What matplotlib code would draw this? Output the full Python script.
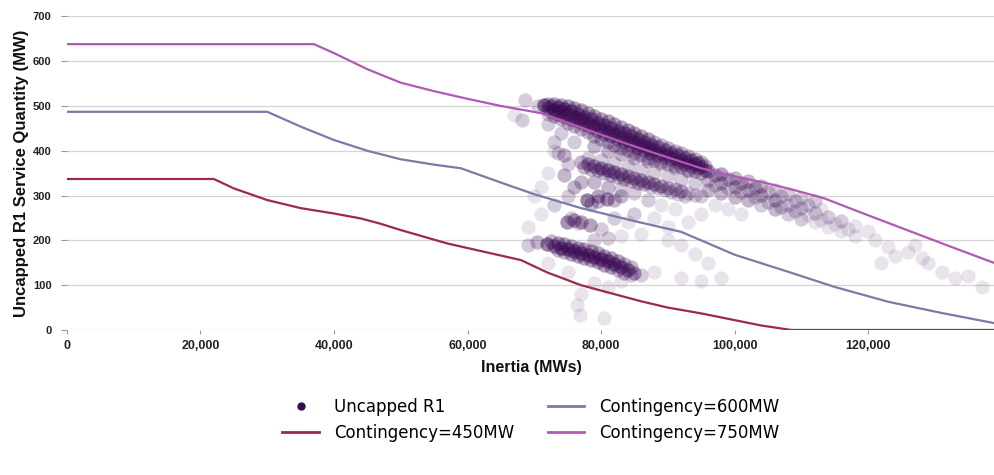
import numpy as np
import matplotlib
matplotlib.use("Agg")
import matplotlib.pyplot as plt
from matplotlib.lines import Line2D
from matplotlib.font_manager import FontProperties

# ---------------- data ----------------
# Contingency curves: inertia (thousand MWs) vs uncapped R1 quantity (MW)
c450_x = [0, 22, 25, 30, 35, 40, 44, 47, 50, 57, 68, 72, 77, 82, 86, 90, 95, 100, 104, 108.5, 139]
c450_y = [337, 337, 316, 290, 272, 260, 249, 237, 223, 193, 156, 128, 100, 80, 64, 50, 37, 22, 10, 0, 0]

c600_x = [0, 30, 35, 40, 45, 50, 55, 59, 65, 70, 77, 85, 92, 95, 100, 108, 115, 123, 131, 139]
c600_y = [487, 487, 454, 424, 400, 381, 369, 361, 329, 303, 272, 243, 219, 200, 168, 130, 96, 63, 38, 15]

c750_x = [0, 37, 40, 45, 50, 55, 60, 65, 71, 77, 83, 89, 95, 100, 105, 109, 113.4, 120, 126, 132, 139]
c750_y = [638, 638, 618, 582, 552, 533, 516, 500, 484, 452, 420, 390, 361, 343, 327, 312, 294, 256, 222, 188, 149]

# Uncapped R1 observations: inertia (thousand MWs), quantity (MW), multiplicity
obs_x = [
    # top dense band (five staggered rows)
    72, 73, 74, 75, 76, 77, 78, 79, 80, 81, 82, 83, 84, 85, 86, 87, 88, 89, 90, 91, 92, 93, 94, 95,
    72.5, 73.5, 74.5, 75.5, 76.5, 77.5, 78.5, 79.5, 80.5, 81.5, 82.5, 83.5, 84.5, 85.5, 86.5, 87.5,
    88.5, 89.5, 90.5, 91.5, 92.5, 93.5, 94.5, 95.5,
    72, 73, 74, 75, 76, 77, 78, 79, 80, 81, 82, 83, 84, 85, 86, 87, 88, 89, 90, 91, 92, 93, 94, 95,
    72.5, 73.5, 74.5, 75.5, 76.5, 77.5, 78.5, 79.5, 80.5, 81.5, 82.5, 83.5, 84.5, 85.5, 86.5, 87.5,
    88.5, 89.5, 90.5, 91.5, 92.5, 93.5, 94.5, 95.5,
    72, 73, 74, 75, 76, 77, 78, 79, 80, 81, 82, 83, 84, 85, 86, 87, 88, 89, 90, 91, 92, 93, 94, 95,
    71.5, 70.5, 68.6, 68.1, 67,
    # band continuation beyond 95k
    96, 98, 100, 102, 104, 106, 108, 110, 112,
    97, 99, 101, 103, 105, 107, 109, 111, 113,
    96, 98, 100, 102, 104, 106, 108, 110, 112, 114, 116, 118, 120,
    97, 99, 101, 103, 105, 107, 109, 111, 113, 115, 117,
    96, 98, 100, 102, 104, 106, 108, 110, 112, 114, 116, 118,
    121, 123, 124, 126, 128, 129, 131, 133, 135, 137, 127, 122,
    # second band
    77, 78, 79, 80, 81, 82, 83, 84, 85, 86, 87, 88, 89, 90, 91, 92, 93, 94, 95,
    77.5, 78.5, 79.5, 80.5, 81.5, 82.5, 83.5, 84.5, 85.5, 86.5, 87.5, 88.5, 89.5, 90.5, 91.5, 92.5,
    78, 80, 82, 84, 86, 88, 90, 92, 94,
    79, 81, 83, 85, 87, 89, 91, 93,
    # middle column and scattered points
    74.4, 74.4, 77.9, 80.9, 79.5, 74.9, 78.4, 76, 77, 80, 82, 83, 76, 75, 73, 74, 76, 72,
    73, 72, 71, 70, 71, 73, 75, 77, 79, 81, 83, 85, 87, 89, 91, 85, 88, 82, 84, 90, 93,
    95, 97, 99, 101, 86, 90, 92, 94, 96, 88, 92, 95, 98, 83, 79, 81, 83,
    78.5, 79.5, 76.5, 75.5, 73.5,
    # lower dense band
    70.4, 71.9, 73, 74, 75, 76, 77, 78, 79, 80, 81, 82, 83, 84, 85, 86,
    72.5, 73.5, 74.5, 75.5, 76.5, 77.5, 78.5, 79.5, 80.5, 81.5, 82.5, 83.5, 84.5,
    73.5, 74.5, 75.5, 76.5, 77.5, 78.5, 79.5, 80.5, 81.5, 82.5, 83.5, 84.5,
    # sparse low points
    76.4, 76.9, 80.4, 77, 75, 72, 69, 69, 79, 81,
]
obs_y = [
    505, 505, 503, 500, 495, 490, 484, 478, 472, 466, 460, 453, 446, 440, 433, 427, 420, 413, 407, 400, 394, 388, 382, 376,
    500, 498, 494, 488, 482, 476, 470, 463, 457, 451, 445, 439, 432, 426, 420, 414,
    408, 402, 396, 390, 384, 379, 373, 367,
    495, 492, 488, 482, 476, 470, 463, 456, 449, 443, 437, 431, 425, 419, 413, 407, 401, 396, 391, 385, 380, 375, 370, 364,
    488, 483, 478, 472, 466, 459, 452, 445, 438, 432, 425, 419, 413, 407, 401, 396,
    391, 386, 381, 376, 371, 366, 361, 356,
    482, 477, 470, 463, 456, 449, 441, 433, 426, 419, 413, 407, 401, 396, 390, 385, 380, 375, 371, 367, 363, 358, 354, 350,
    502, 500, 513, 469, 480,
    355, 348, 340, 332, 322, 313, 303, 295, 287,
    345, 337, 328, 318, 308, 298, 289, 280, 270,
    335, 328, 320, 312, 302, 290, 280, 272, 262, 252, 243, 232, 222,
    323, 316, 308, 296, 285, 275, 266, 256, 246, 236, 226,
    312, 305, 297, 290, 280, 270, 258, 248, 240, 230, 220, 210,
    200, 185, 165, 175, 160, 150, 130, 115, 120, 97, 190, 150,
    375, 370, 366, 362, 357, 352, 348, 344, 340, 335, 330, 326, 322, 318, 314, 310, 306, 302, 298,
    364, 360, 356, 351, 347, 342, 338, 333, 329, 325, 320, 316, 312, 308, 304, 300,
    385, 380, 372, 365, 357, 350, 343, 335, 328,
    410, 400, 392, 385, 377, 370, 362, 354,
    390, 346, 290, 292, 300, 242, 234, 245, 240, 225, 290, 300, 320, 370, 420, 440, 420, 460,
    400, 350, 320, 300, 260, 280, 300, 330, 330, 320, 315, 305, 290, 280, 270, 260, 250, 250, 240, 230, 240,
    260, 280, 270, 260, 215, 200, 190, 170, 150, 130, 115, 110, 115, 110, 200, 205, 210,
    282, 288, 238, 250, 395,
    197, 192, 188, 184, 180, 177, 172, 168, 163, 158, 153, 147, 141, 134, 127, 122,
    198, 195, 192, 188, 184, 180, 176, 171, 166, 160, 154, 147, 140,
    178, 174, 170, 166, 161, 156, 151, 146, 140, 134, 128, 122,
    56, 33, 26, 80, 130, 150, 230, 190, 105, 95,
]
obs_n = [
    3, 4, 4, 4, 4, 4, 4, 4, 4, 4, 4, 4, 4, 4, 4, 4, 3, 3, 3, 3, 3, 3, 3, 3,
    4, 5, 5, 5, 5, 5, 5, 5, 5, 5, 5, 5, 5, 5, 5, 5,
    4, 4, 4, 4, 4, 4, 4, 3,
    4, 5, 5, 5, 5, 5, 5, 5, 5, 5, 5, 5, 5, 5, 5, 5, 5, 4, 4, 4, 4, 4, 4, 4,
    3, 4, 4, 4, 4, 4, 4, 4, 4, 4, 4, 4, 4, 4, 4, 4,
    4, 3, 3, 3, 3, 3, 3, 3,
    2, 3, 3, 3, 3, 3, 3, 3, 3, 3, 3, 3, 3, 3, 3, 3, 3, 3, 3, 3, 3, 3, 3, 3,
    7, 2, 2, 2, 1,
    4, 4, 3, 3, 3, 2, 2, 2, 2,
    3, 3, 3, 3, 2, 2, 2, 2, 1,
    3, 3, 3, 3, 3, 3, 2, 2, 2, 2, 2, 1, 1,
    2, 2, 2, 2, 2, 2, 2, 1, 1, 1, 1,
    3, 3, 3, 3, 2, 3, 2, 2, 1, 1, 1, 1,
    1, 1, 1, 1, 1, 1, 1, 1, 1, 1, 1, 1,
    3, 4, 4, 5, 5, 5, 5, 4, 4, 4, 4, 4, 4, 3, 3, 3, 2, 2, 2,
    3, 3, 3, 3, 3, 3, 3, 3, 3, 3, 2, 2, 2, 2, 2, 2,
    2, 2, 2, 2, 2, 2, 2, 2, 2,
    3, 3, 3, 3, 3, 2, 2, 2,
    3, 3, 6, 5, 4, 5, 4, 4, 4, 2, 3, 3, 3, 2, 2, 2, 2, 2,
    1, 1, 1, 1, 1, 2, 2, 3, 3, 3, 2, 2, 2, 1, 1, 2, 1, 2, 1, 1, 1,
    1, 1, 1, 1, 1, 1, 1, 1, 1, 1, 1, 1, 1, 1, 2, 2, 1,
    3, 3, 2, 2, 2,
    3, 6, 5, 6, 6, 6, 6, 6, 6, 6, 6, 6, 6, 5, 4, 2,
    3, 4, 4, 4, 4, 4, 4, 4, 4, 4, 4, 3, 3,
    3, 3, 4, 4, 4, 4, 4, 4, 4, 3, 3, 2,
    1, 1, 1, 1, 1, 1, 1, 2, 1, 1,
]

x_ticks = [0, 20000, 40000, 60000, 80000, 100000, 120000]
y_ticks = [0, 100, 200, 300, 400, 500, 600, 700]

# ---------------- plotting ----------------
plt.rcParams['font.family'] = ['DejaVu Sans']
fig = plt.figure(figsize=(9.95, 4.75), dpi=100)
ax = fig.add_axes([0.0673, 0.3053, 0.9327, 0.6602])

SCAT = '#3b0a55'
C450 = '#9e2a48'
C600 = '#7c7aa8'
C750 = '#b05ab4'

px = np.repeat(np.array(obs_x) * 1000, obs_n)
py = np.repeat(np.array(obs_y), obs_n)
ax.scatter(px, py, s=105, color=SCAT, alpha=0.11, linewidths=0, zorder=2)

ax.plot(np.array(c450_x) * 1000, c450_y, color=C450, lw=1.6, zorder=3)
ax.plot(np.array(c600_x) * 1000, c600_y, color=C600, lw=1.6, zorder=3)
ax.plot(np.array(c750_x) * 1000, c750_y, color=C750, lw=1.6, zorder=3)

ax.set_xlim(0, 139000)
ax.set_ylim(0, 700)
ax.set_xticks(x_ticks)
ax.set_xticklabels([f"{v:,}" for v in x_ticks])
ax.set_yticks(y_ticks)

for s in ax.spines.values():
    s.set_visible(False)
ax.yaxis.grid(True, color='#d4d4d4', lw=0.9, zorder=0)
ax.xaxis.grid(False)
ax.set_axisbelow(True)

xfp = FontProperties(family='Liberation Sans', weight='bold', size=9)
yfp = FontProperties(family='Liberation Sans', weight='bold', size=8)
for lab in ax.get_xticklabels():
    lab.set_fontproperties(xfp)
    lab.set_color('#222222')
for lab in ax.get_yticklabels():
    lab.set_fontproperties(yfp)
    lab.set_color('#222222')
ax.tick_params(axis='x', length=3, width=0.8, color='#999999', pad=4)
ax.tick_params(axis='y', length=4, width=0.8, color='#999999', pad=7)

ax.set_xlabel('Inertia (MWs)', family='Liberation Sans', weight='bold', size=11.5, color='#111111', labelpad=6)
ax.set_ylabel('Uncapped R1 Service Quantity (MW)', family='Liberation Sans', weight='bold', size=12,
              color='#111111', labelpad=3)

handles = [
    Line2D([], [], marker='o', ls='none', color=SCAT, markersize=5),
    Line2D([], [], color=C450, lw=2),
    Line2D([], [], color=C600, lw=2),
    Line2D([], [], color=C750, lw=2),
]
labels = ['Uncapped R1', 'Contingency=450MW', 'Contingency=600MW', 'Contingency=750MW']
ax.legend(handles, labels, loc='center', bbox_to_anchor=(0.5, -0.287), ncol=2, frameon=False,
          fontsize=12, handlelength=2.2, columnspacing=2.0, labelspacing=0.45, handletextpad=0.9)

fig.savefig('out.png', dpi=100)
